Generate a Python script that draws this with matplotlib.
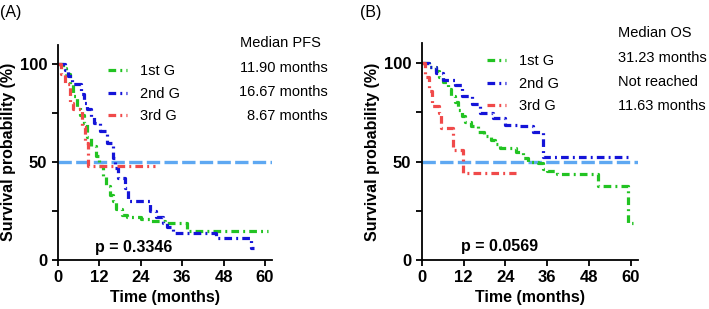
import matplotlib as mpl
mpl.use("Agg")
import matplotlib.pyplot as plt
from matplotlib.ticker import MultipleLocator

plt.rcParams['font.family'] = ['Liberation Sans', 'DejaVu Sans']

# PFS (panel A), months / survival %
green_a_t = [0, 1.5, 2.5, 3.5, 4.5, 5.5, 6.5, 7.5, 8.5, 9.5, 11, 12, 13, 14, 15, 16, 17, 18.5, 20, 24, 27, 31, 37.5, 61]
green_a_s = [100, 98, 95, 90, 84, 78, 74, 70, 63, 58, 53, 48, 43, 38, 33, 30, 26, 23, 22, 21, 20, 19, 15, 15]
blue_a_t = [0, 2, 3, 4, 6.6, 7.6, 8.6, 9.5, 10.5, 12.2, 14.2, 16, 16.5, 17.5, 19.4, 20.3, 26.6, 28.5, 30.4, 31.5, 33.3, 45.9, 56, 56.8]
blue_a_s = [100, 97, 94, 90, 85, 80, 77, 73, 70, 66, 60, 52, 47, 42, 37, 30, 25, 22, 19, 17, 14, 11, 6, 6]
red_a_t = [0, 1, 2, 3.5, 4.5, 7, 8, 8.7, 28.2]
red_a_s = [100, 95, 90, 80, 77, 68, 60, 48, 48]

# OS (panel B)
green_b_t = [0, 2, 4, 5, 6, 7.5, 8.5, 9.5, 10.5, 11.5, 12.5, 14, 16, 18, 20, 21, 22.4, 27, 29, 30.5, 33.4, 34.9, 36, 38.7, 50.6, 59.2, 60.6]
green_b_s = [100, 98, 96, 93, 90.5, 87, 83, 80, 76, 73, 70, 68, 65, 63, 61, 59, 57, 55, 52, 50, 49, 46, 45, 43.6, 37.5, 19, 19]
blue_b_t = [0, 2, 4, 6.2, 9.5, 11.5, 14.3, 16.7, 20.5, 23.9, 28, 32, 34.9, 59.2]
blue_b_s = [100, 98, 95, 91.5, 89, 83, 79, 74.5, 72, 68.6, 68, 65, 52.5, 52.5]
red_b_t = [0, 1, 2, 3, 5, 5.5, 9, 11.7, 27]
red_b_s = [100, 93, 86, 78, 74.6, 67, 56, 44.4, 44.4]

groups = ['1st G', '2nd G', '3rd G']
colors = ['#22c322', '#1414d8', '#f04a4a']
pfs_median = ['11.90 months', '16.67 months', '8.67 months']
os_median = ['31.23 months', 'Not reached', '11.63 months']

W, H = 709, 309
fig = plt.figure(figsize=(W / 100, H / 100), dpi=100)


def px(x, y):
    return x / W, 1 - y / H


def make_axes(left, xscale, yscale):
    # axes rect in pixels: origin at (left, 260)
    x0, y0 = px(left, 260)
    w = 62 * xscale / W
    h = 110 * yscale / H
    return fig.add_axes([x0, y0, w, h])


def style(ax):
    ax.set_xlim(0, 62)
    ax.set_ylim(0, 110)
    ax.spines['top'].set_visible(False)
    ax.spines['right'].set_visible(False)
    for s in ['left', 'bottom']:
        ax.spines[s].set_linewidth(1.3)
    ax.set_xticks([0, 12, 24, 36, 48, 60])
    ax.set_yticks([0, 50, 100])
    ax.yaxis.set_minor_locator(MultipleLocator(25))
    ax.set_yticks([25, 75], minor=True)
    ax.tick_params(which='both', direction='out', width=1.3, labelsize=12)
    ax.tick_params(which='major', length=4)
    ax.tick_params(which='minor', length=4)
    for lab in ax.get_xticklabels() + ax.get_yticklabels():
        lab.set_fontweight('bold')
    ax.set_xlabel('Time (months)', fontsize=11.5, fontweight='bold', labelpad=3)
    ax.set_ylabel('Survival probability (%)', fontsize=11.5, fontweight='bold', labelpad=3)
    ax.axhline(50, color='#5ea8f2', lw=2.4, dashes=(4, 1.3), zorder=1)


def draw(ax, series):
    handles = []
    for (t, s), c, g in zip(series, colors, groups):
        ln, = ax.step(t, s, where='post', color=c, lw=2.3, label=g, zorder=2)
        ln.set_dashes((2.4, 1.3, 0.6, 1.3))
        handles.append(ln)
    return handles


axA = make_axes(57.7, 3.455, 1.957)
style(axA)
hA = draw(axA, [(green_a_t, green_a_s), (blue_a_t, blue_a_s), (red_a_t, red_a_s)])
axA.text(22, 6.6, 'p = 0.3346', fontsize=11.5, fontweight='bold', ha='center', va='center')
axA.legend(handles=hA, loc='upper left', bbox_to_anchor=px(108, 64), bbox_transform=fig.transFigure,
           frameon=False, fontsize=10.5, handlelength=1.3, handletextpad=0.9, labelspacing=0.6,
           borderaxespad=0, borderpad=0)

axB = make_axes(421.7, 3.488, 1.97)
style(axB)
hB = draw(axB, [(green_b_t, green_b_s), (blue_b_t, blue_b_s), (red_b_t, red_b_s)])
axB.text(22.4, 6.6, 'p = 0.0569', fontsize=11.5, fontweight='bold', ha='center', va='center')
axB.legend(handles=hB, loc='upper left', bbox_to_anchor=px(487, 54), bbox_transform=fig.transFigure,
           frameon=False, fontsize=10.5, handlelength=1.3, handletextpad=0.9, labelspacing=0.6,
           borderaxespad=0, borderpad=0)

# panel letters and median tables
fig.text(*px(0, 13), '(A)', fontsize=11.5, va='center', ha='left')
fig.text(*px(360, 13), '(B)', fontsize=11.5, va='center', ha='left')

fig.text(*px(240, 42.7), 'Median PFS', fontsize=10.5, va='center', ha='left')
for i, m in enumerate(pfs_median):
    fig.text(*px(328, 67.7 + 24 * i), m, fontsize=10.5, va='center', ha='right')

fig.text(*px(618, 33.3), 'Median OS', fontsize=10.5, va='center', ha='left')
for i, m in enumerate(os_median):
    fig.text(*px(618, 58.3 + 23.8 * i), m, fontsize=10.5, va='center', ha='left')

plt.savefig('out.png', dpi=100)
